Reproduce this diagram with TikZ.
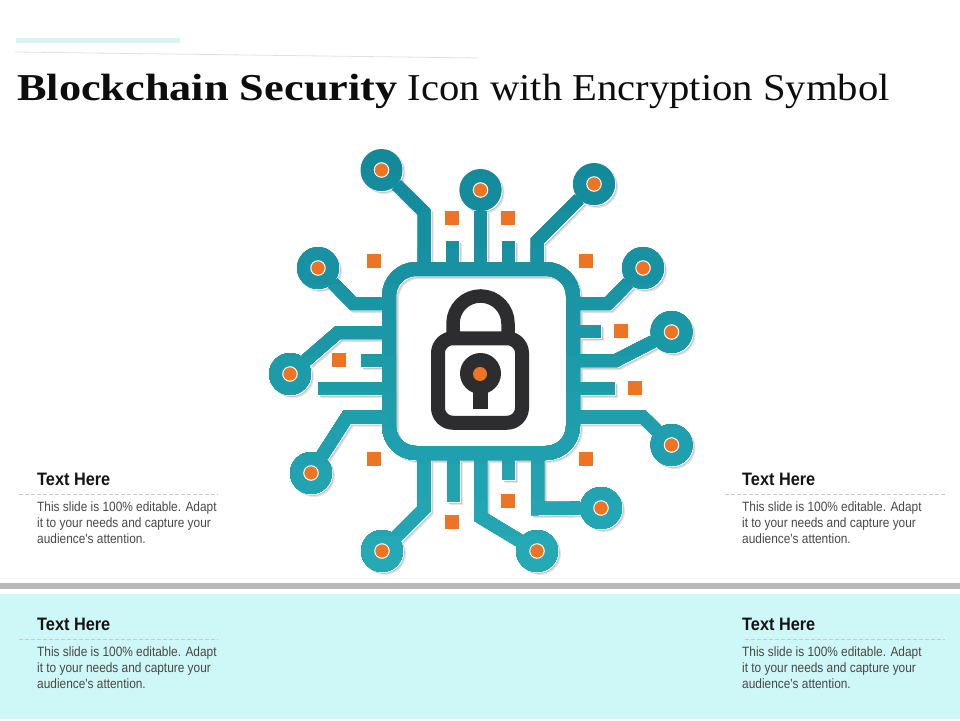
\documentclass[tikz,border=0pt]{standalone}
\usepackage{fontspec}
\usetikzlibrary{positioning}
\newfontfamily\titlefont[UprightFeatures={FakeStretch=1.07},BoldFeatures={FakeStretch=1.166}]{Liberation Serif}
\newfontfamily\notefont[FakeStretch=0.88]{Liberation Sans}
\newfontfamily\noteheadfont[BoldFeatures={FakeStretch=0.905}]{Liberation Sans}
\definecolor{tealTop}{HTML}{13899A}
\definecolor{tealBot}{HTML}{25A9B5}
\definecolor{padOrange}{HTML}{ED7423}
\definecolor{lockDark}{HTML}{2D2D2F}
\definecolor{bandCyan}{HTML}{CEF7F7}
\definecolor{barCyan}{HTML}{D5F5F3}
\definecolor{barGray}{HTML}{B8B8B8}
\tikzset{
	trace/.style={line width=13pt, line join=miter},
	padDisc/.style={circle, minimum size=42pt, inner sep=0pt, outer sep=0pt},
	padHole/.style={circle, fill=padOrange, draw=white, line width=1pt, minimum size=14.5pt, inner sep=0pt},
	bitSquare/.style={rectangle, fill=padOrange, minimum size=14pt, inner sep=0pt},
	chipBox/.style={rectangle, rounded corners=27pt, line width=14pt, minimum size=184pt, inner sep=0pt, outer sep=0pt},
	lockBox/.style={rectangle, rounded corners=15pt, draw=lockDark, line width=14pt, minimum width=84pt, minimum height=84.5pt, inner sep=0pt, outer sep=0pt},
	noteHead/.style={anchor=west, inner sep=0pt, text=black!92, font=\noteheadfont\bfseries\fontsize{18}{20}\selectfont},
	noteBody/.style={inner sep=0pt, align=left, text=black!72, font=\notefont\fontsize{13.5}{16}\selectfont},
	noteRule/.style={draw=black!22, line width=0.6pt, dash pattern=on 3.5pt off 2.5pt}
}
% the whole circuit in one colour, drawn again for rim and shadow
\newcommand{\circuitpart}[1]{
	\node [chipBox, draw=#1] (chip) at (481,361) {};
	\foreach \padname/\px/\py in {1/381.5/170,2/480.5/190,3/594/184,4/318/268,5/643/268,6/671.5/332,
		7/290/374,8/311/473,9/671.5/445,10/382/551,11/601/508,12/537/551}
		\node [padDisc, fill=#1] (pad\padname) at (\px,\py) {};
	\draw [trace, #1] (pad1) -- (424,212) -- (chip.north -| 424,0);
	\draw [trace, #1] (pad2) -- (pad2 |- chip.north);
	\draw [trace, #1] (pad3) -- (537,241) -- (chip.north -| 537,0);
	\draw [trace, #1] (chip.north -| 452.5,0) -- (452.5,241);
	\draw [trace, #1] (chip.north -| 508.5,0) -- (508.5,241);
	\draw [trace, #1] (pad4) -- (353,303.5) -- (chip.west |- 0,303.5);
	\draw [trace, #1] (pad7) -- (338,332.5) -- (chip.west |- 0,332.5);
	\draw [trace, #1] (chip.west |- 0,360.5) -- (361,360.5);
	\draw [trace, #1] (chip.west |- 0,388.5) -- (318,388.5);
	\draw [trace, #1] (pad8) -- (347,417) -- (chip.west |- 0,417);
	\draw [trace, #1] (pad5) -- (608,303.5) -- (chip.east |- 0,303.5);
	\draw [trace, #1] (chip.east |- 0,331.5) -- (601,331.5);
	\draw [trace, #1] (pad6) -- (616,360.5) -- (chip.east |- 0,360.5);
	\draw [trace, #1] (chip.east |- 0,388.5) -- (615,388.5);
	\draw [trace, #1] (pad9) -- (643,417) -- (chip.east |- 0,417);
	\draw [trace, #1] (pad10) -- (424,509) -- (chip.south -| 424,0);
	\draw [trace, #1] (chip.south -| 453,0) -- (453,502);
	\draw [trace, #1] (pad12) -- (480.5,517) -- (chip.south -| 480.5,0);
	\draw [trace, #1] (chip.south -| 508.5,0) -- (508.5,480);
	\draw [trace, #1] (pad11) -- (537.5,508.5) -- (chip.south -| 537.5,0);
}
\begin{document}
\begin{tikzpicture}[x=1pt, y=-1pt]
	\useasboundingbox (0,0) rectangle (960,720);
	% header
	\fill [barCyan] (16,38) rectangle (180,43);
	\draw [black!12, line width=0.8pt] (15,52) -- (478,58);
	\node (title) [anchor=base west, inner sep=0pt, text=black!95, font=\titlefont\fontsize{38}{44}\selectfont] at (17,100)
		{\textbf{Blockchain Security} Icon with Encryption Symbol};
	% bottom band
	\draw [black!5, line width=0.6pt] (0,578) -- (960,578);
	\fill [barGray] (0,583) rectangle (960,589);
	\fill [bandCyan] (0,594) rectangle (960,719);
	% circuit
	\begin{scope}[shift={(3,3)}]
		\circuitpart{black!10}
	\end{scope}
	\begin{scope}[shift={(2,2)}]
		\circuitpart{black!22}
	\end{scope}
	\begin{scope}[shift={(1,1)}]
		\circuitpart{white}
	\end{scope}
	\foreach \band in {0,...,11} {
		\pgfmathtruncatemacro\mixval{100-\band*100/11}
		\pgfmathsetmacro\bandy{140+\band*36}
		\begin{scope}
			\clip (250,\bandy) rectangle (710,600);
			\circuitpart{tealTop!\mixval!tealBot}
		\end{scope}
	}
	\foreach \padname in {1,...,12}
		\node [padHole] (hole\padname) at (pad\padname.center) {};
	\foreach \sqname/\sx/\sy in {a/452/218,b/508/218,c/374/261,d/586/261,e/621/331,f/339/360,
		g/635/388,h/374/459,i/586/459,j/508/501,k/452/522}
		\node [bitSquare] (bit\sqname) at (\sx,\sy) {};
	% lock
	\draw [lockDark, line width=13.5pt] (453,338) -- (453,323.5) arc[start angle=180, end angle=0, radius=27.5pt] -- (508,338);
	\node [lockBox] (lockbody) at (480,380.5) {};
	\fill [lockDark] (473,385) rectangle (488,409);
	\node [circle, fill=lockDark, minimum size=41pt, inner sep=0pt] (keyhole) at (480.5,373.5) {};
	\node [circle, fill=padOrange, minimum size=14pt, inner sep=0pt] (keydot) at (480,374) {};
	% notes
	\foreach \name/\nx/\ny/\rulea/\ruleb in {a/37/479/19/218, b/742/479/725/945, c/37/624/19/218, d/742/624/745/945} {
		\node (head\name) [noteHead] at (\nx,\ny) {Text Here};
		\node (body\name) [noteBody, below=23pt of head\name.west, anchor=north west]
			{This slide is 100\% editable. Adapt\\it to your needs and capture your\\audience's attention.};
		\coordinate (rulestart\name) at (\rulea,\ny+15);
		\coordinate (ruleend\name) at (\ruleb,\ny+15);
		\draw [noteRule] (rulestart\name) -- (ruleend\name);
	}
\end{tikzpicture}
\end{document}
